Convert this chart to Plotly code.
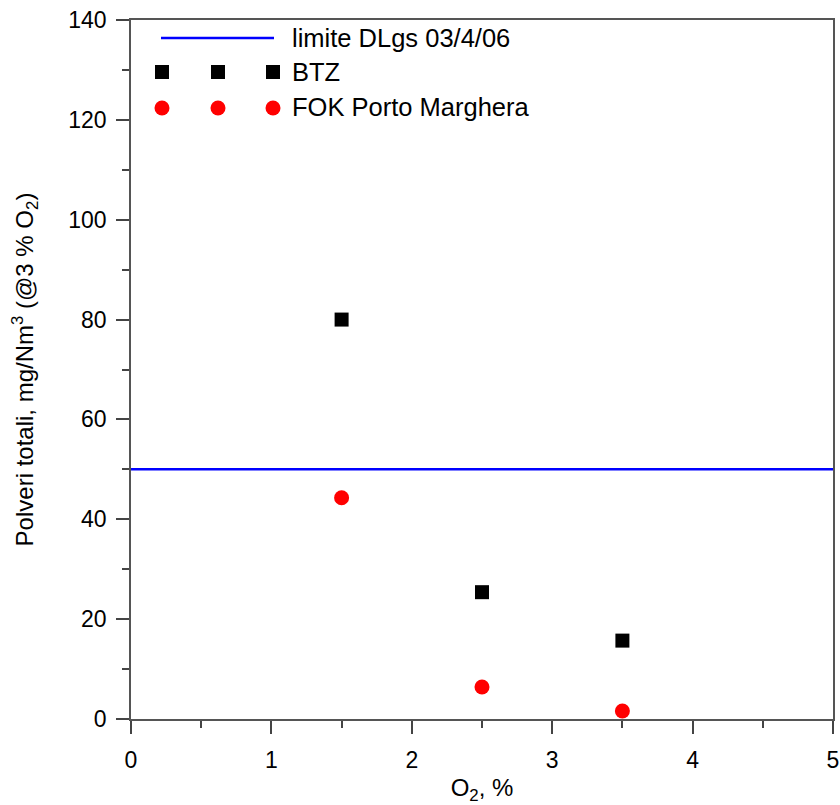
import plotly.graph_objects as go

# Data
o2 = [1.5, 2.5, 3.5]
btz = [80.0, 25.4, 15.7]
fok = [44.3, 6.4, 1.6]
limit_value = 50
x_range = [0, 5]
y_range = [0, 140]
legend_labels = ["limite DLgs 03/4/06", "BTZ", "FOK Porto Marghera"]

W, H = 840, 805
L, T, R, B = 131, 20, 7, 86
pw, ph = W - L - R, H - T - B

def px(x):
    return (x - L) / pw

def py(y):
    return (H - B - y) / ph

FONT = "Liberation Sans, Arial, sans-serif"

fig = go.Figure()
fig.add_trace(go.Scatter(x=x_range, y=[limit_value, limit_value], mode="lines",
                         line=dict(color="#0000ff", width=2.5), showlegend=False, hoverinfo="skip"))
fig.add_trace(go.Scatter(x=o2, y=btz, mode="markers",
                         marker=dict(symbol="square", size=14, color="black"), showlegend=False))
fig.add_trace(go.Scatter(x=o2, y=fok, mode="markers",
                         marker=dict(symbol="circle", size=15, color="#ff0000"), showlegend=False))

# manual legend (overlay axes in paper coordinates)
leg_x = [px(162), px(218), px(273)]
fig.add_trace(go.Scatter(x=[px(161), px(274)], y=[py(38)] * 2, mode="lines",
                         line=dict(color="#0000ff", width=2.5), xaxis="x2", yaxis="y2",
                         showlegend=False, hoverinfo="skip"))
fig.add_trace(go.Scatter(x=leg_x, y=[py(72)] * 3, mode="markers",
                         marker=dict(symbol="square", size=14, color="black"), xaxis="x2", yaxis="y2",
                         showlegend=False, hoverinfo="skip"))
fig.add_trace(go.Scatter(x=leg_x, y=[py(108)] * 3, mode="markers",
                         marker=dict(symbol="circle", size=15, color="#ff0000"), xaxis="x2", yaxis="y2",
                         showlegend=False, hoverinfo="skip"))
for lbl, yy in zip(legend_labels, [38, 72, 107]):
    fig.add_annotation(x=px(290), y=py(yy), xref="paper", yref="paper", text=lbl,
                       showarrow=False, xanchor="left", yanchor="middle",
                       font=dict(family=FONT, size=25.5, color="black"))

axis_common = dict(showgrid=False, zeroline=False, showline=True, linecolor="#555555",
                   linewidth=1.5, mirror=True, ticks="outside", ticklen=13, tickwidth=1.5,
                   tickcolor="#444444", tickfont=dict(family=FONT, size=23, color="black"),
                   ticklabeloverflow="allow", automargin=False)

fig.update_layout(
    width=W, height=H,
    margin=dict(l=L, r=R, t=T, b=B, autoexpand=False),
    paper_bgcolor="white", plot_bgcolor="white",
    xaxis=dict(range=x_range, dtick=1, tick0=0,
               minor=dict(dtick=0.5, ticks="outside", ticklen=7, tickcolor="#444444", tickwidth=1.5),
               title=dict(text="O<sub>2</sub>, %", font=dict(family=FONT, size=24, color="black"),
                          standoff=8),
               ticklabelstandoff=7,
               **axis_common),
    yaxis=dict(range=y_range, dtick=20, tick0=0,
               minor=dict(dtick=10, ticks="outside", ticklen=7, tickcolor="#444444", tickwidth=1.5),
               title=dict(text="Polveri totali, mg/Nm<sup>3</sup> (@3 % O<sub>2</sub>)",
                          font=dict(family=FONT, size=24, color="black"), standoff=28),
               ticklabelstandoff=5,
               **axis_common),
    xaxis2=dict(overlaying="x", range=[0, 1], visible=False, fixedrange=True, automargin=False),
    yaxis2=dict(overlaying="y", range=[0, 1], visible=False, fixedrange=True, automargin=False),
    font=dict(family=FONT),
)

fig.write_html("out.html", config={"displayModeBar": False},
               post_script="document.body.style.margin='0';document.body.style.overflow='hidden';")
